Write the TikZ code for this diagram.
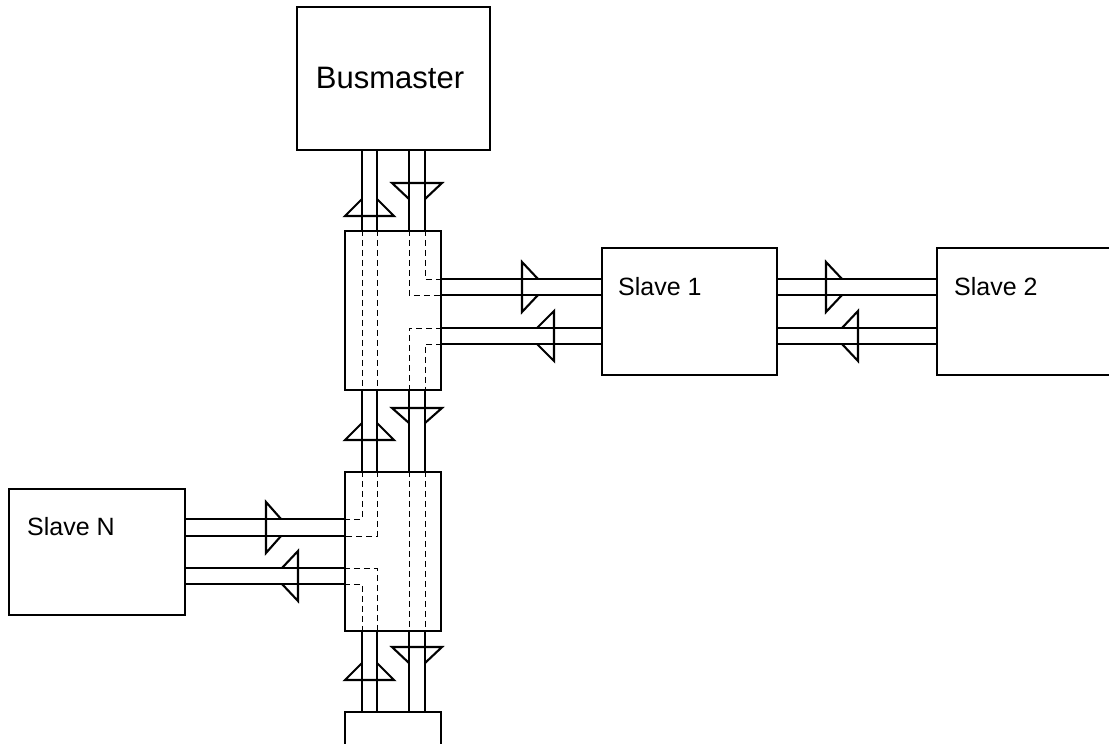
\documentclass[tikz,border=0pt]{standalone}
\usepackage{fontspec}
\setmainfont{Liberation Sans}
\begin{document}
\begin{tikzpicture}[x=1pt,y=-1pt,
  box/.style={draw, line width=2.1pt, rectangle, inner sep=0pt},
  lbl/.style={inner sep=0pt, font=\fontsize{25}{30}\selectfont},
  bus/.style={line width=2.1pt},
  inner/.style={line width=1pt, dash pattern=on 6pt off 4pt},
  tri/.style={line width=2.1pt, line join=miter}]
\useasboundingbox (0,0) rectangle (1109,744);
% boxes
\node[box, minimum width=193pt, minimum height=143pt] (bm) at (393.5,78.5) {};
\node[inner sep=0pt, anchor=base, font=\fontsize{31}{37}\selectfont] (bmt) at (390,88) {Busmaster};
\node[box, minimum width=96pt, minimum height=159pt] (j1) at (393,310.5) {};
\node[box, minimum width=96pt, minimum height=159pt] (j2) at (393,551.5) {};
\node[box, minimum width=96pt, minimum height=60pt] (bot) at (393,742) {};
\node[box, minimum width=175pt, minimum height=127pt] (s1) at (689.5,311.5) {};
\node[box, minimum width=190pt, minimum height=127pt] (s2) at (1032,311.5) {};
\node[box, minimum width=176pt, minimum height=126pt] (sn) at (97,552) {};
\node[lbl, anchor=base west] (s1t) at (618,295) {Slave 1};
\node[lbl, anchor=base west] (s2t) at (954,295) {Slave 2};
\node[lbl, anchor=base west] (snt) at (27,535) {Slave N};
% vertical bus lines
\foreach \x in {362,377,409,425}{
  \draw[bus] (bm.south -| \x,0) -- (j1.north -| \x,0);
  \draw[bus] (j1.south -| \x,0) -- (j2.north -| \x,0);
  \draw[bus] (j2.south -| \x,0) -- (bot.north -| \x,0);
}
% horizontal bus lines
\foreach \y in {279,295,328,344}{
  \draw[bus] (j1.east |- 0,\y) -- (s1.west |- 0,\y);
  \draw[bus] (s1.east |- 0,\y) -- (s2.west |- 0,\y);
}
\foreach \y in {519,536,568,584}{
  \draw[bus] (sn.east |- 0,\y) -- (j2.west |- 0,\y);
}
% inner dashed routing J1
\draw[inner] (j1.north -| 362,0) -- (j1.south -| 362,0);
\draw[inner] (j1.north -| 377,0) -- (j1.south -| 377,0);
\draw[inner] (j1.north -| 425,0) -- (425,279) -- (j1.east |- 0,279);
\draw[inner] (j1.north -| 409,0) -- (409,295) -- (j1.east |- 0,295);
\draw[inner] (j1.east |- 0,328) -- (409,328) -- (j1.south -| 409,0);
\draw[inner] (j1.east |- 0,344) -- (425,344) -- (j1.south -| 425,0);
% inner dashed routing J2
\draw[inner] (j2.north -| 409,0) -- (j2.south -| 409,0);
\draw[inner] (j2.north -| 425,0) -- (j2.south -| 425,0);
\draw[inner] (j2.north -| 362,0) -- (362,519) -- (j2.west |- 0,519);
\draw[inner] (j2.north -| 377,0) -- (377,536) -- (j2.west |- 0,536);
\draw[inner] (j2.west |- 0,568) -- (377,568) -- (j2.south -| 377,0);
\draw[inner] (j2.west |- 0,584) -- (362,584) -- (j2.south -| 362,0);
% vertical arrow marks
\foreach \db/\da/\ua/\ub in {183/199/199/216, 408/423/423/440, 647/663/663/680}{
  \draw[tri] (409,\da) -- (392,\db) -- (442,\db) -- (425,\da);
  \draw[tri] (362,\ua) -- (345,\ub) -- (394,\ub) -- (377,\ua);
}
% horizontal arrow marks: right-pointing (base, apex, y1, y2)
\foreach \xb/\xa/\ya/\yb in {522/538/279/295, 826/842/279/295, 266/281/519/536}{
  \draw[tri] (\xa,\ya) -- (\xb,\ya-17) -- (\xb,\yb+17) -- (\xa,\yb);
}
% left-pointing (apex, base, y1, y2)
\foreach \xa/\xb/\ya/\yb in {537/554/328/344, 842/858/328/344, 282/298/568/584}{
  \draw[tri] (\xa,\ya) -- (\xb,\ya-17) -- (\xb,\yb+17) -- (\xa,\yb);
}
\end{tikzpicture}
\end{document}
